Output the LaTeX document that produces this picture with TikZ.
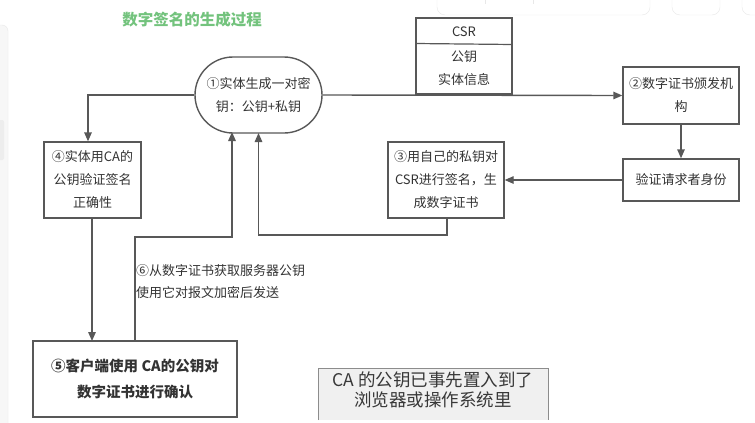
\documentclass[tikz,border=0pt]{standalone}
\usepackage{fontspec}
\setmainfont{Noto Sans CJK SC}
\usetikzlibrary{arrows.meta,shapes.misc,positioning}
\definecolor{linec}{RGB}{88,88,88}
\definecolor{textc}{RGB}{51,51,51}
\definecolor{titlec}{RGB}{115,195,125}
\definecolor{uic}{RGB}{232,232,232}
\tikzset{
  conn/.style={draw=linec, line width=1.4pt, -{Triangle[length=9pt,width=7.5pt]}},
  plainline/.style={draw=linec, line width=1.4pt},
  stepbox/.style={draw=linec, line width=1.4pt, fill=white, text=textc, align=center,
    font=\fontsize{13}{23}\selectfont, inner sep=0pt},
}
\begin{document}
\begin{tikzpicture}[x=1pt,y=-1pt]
\useasboundingbox (0,0) rectangle (755,423);
\fill[white] (0,0) rectangle (755,423);
% faint UI artifacts of the editor
\draw[uic, fill=white, rounded corners=8pt] (437,-20) rectangle (650,15);
\draw[uic, fill=white, rounded corners=8pt] (672,-20) rectangle (720,15);
\draw[uic, fill=white, rounded corners=8pt] (742,-20) rectangle (775,15);
\draw[uic, line width=0.6pt] (485,-2) -- (485,4);
\draw[uic, line width=0.6pt] (533,-2) -- (533,4);
\draw[uic, fill=white!97!black, rounded corners=6pt] (-10,25) rectangle (8,433);
\fill[white!93!black, rounded corners=2pt] (-5,120) rectangle (4,160);

% title
\node[text=titlec, font=\fontsize{15.5}{18}\selectfont\bfseries] (title) at (192,20) {数字签名的生成过程};

% nodes
\node[stepbox, rounded rectangle, minimum width=127pt, minimum height=76pt] (s1) at (258.5,95)
  {①实体生成一对密\\钥：公钥+私钥};
\node[stepbox, minimum width=116pt, minimum height=57pt] (s2) at (681,95.5)
  {②数字证书颁发机\\构};
\node[stepbox, minimum width=116pt, minimum height=42pt] (ver) at (681,180)
  {验证请求者身份};
\node[stepbox, minimum width=116pt, minimum height=76pt] (s3) at (446,180)
  {③用自己的私钥对\\CSR进行签名，生\\成数字证书};
\node[stepbox, minimum width=97pt, minimum height=76pt] (s4) at (92.5,180)
  {④实体用CA的\\公钥验证签名\\正确性};
\node[stepbox, minimum width=204pt, minimum height=76pt, font=\fontsize{14.5}{26}\selectfont\bfseries] (s5) at (135,379)
  {⑤客户端使用 CA的公钥对\\数字证书进行确认};

% CSR box
\node[stepbox, minimum width=96pt, minimum height=76pt] (csr) at (464,56) {};
\draw[plainline, line width=1.2pt] (csr.west |- 0,43.5) -- (csr.east |- 0,44.5);
\node[text=textc, font=\fontsize{13}{15}\selectfont] (csrt) at (464,32) {CSR};
\node[text=textc, font=\fontsize{13}{23}\selectfont, align=center] (csrb) at (464,68.5) {公钥\\实体信息};

% label 6
\node[text=textc, font=\fontsize{13}{22}\selectfont, align=left, anchor=west, inner sep=0pt] (l6) at (136,282)
  {⑥从数字证书获取服务器公钥\\使用它对报文加密后发送};

% pasted note
\draw[draw=white!55!black, fill=white!94!black, line width=0.8pt] (318,420) -- (318,368) -- (548,368) -- (548,420);
\node[text=white!22!black, font=\fontsize{17.5}{20.5}\selectfont, align=center, inner sep=0pt] (note) at (433,390)
  {CA 的公钥已事先置入到了\\浏览器或操作系统里};

% connectors
\coordinate (c4) at ([xshift=-4.5pt]s4.north);
\draw[conn] (s1.west) -| (c4);
\draw[conn] (s1.east) -- (s2.west);
\draw[conn] (s2.south) -- (ver.north);
\draw[conn] (ver.west) -- (s3.east);
\coordinate (b3) at (447,235);
\coordinate (a1) at (258.5,133);
\draw[conn] ([xshift=1pt]s3.south) -- (b3) -| (a1);
\coordinate (t4) at (92,218);
\coordinate (t5) at (92,341);
\draw[conn] (t4) -- (t5);
\coordinate (b5) at (135,237);
\coordinate (a2) at (232,132);
\draw[conn] (s5.north) -- (b5) -| (a2);
\end{tikzpicture}
\end{document}
